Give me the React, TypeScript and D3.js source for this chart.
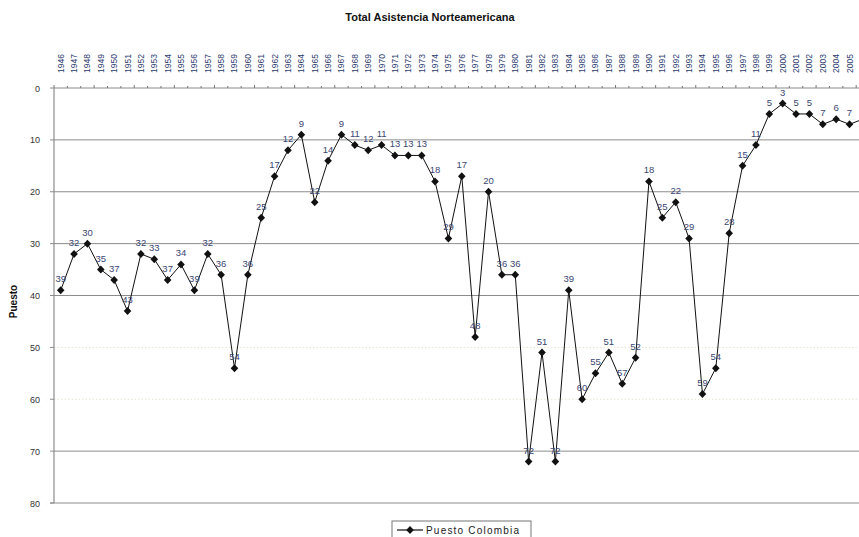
import React from "react";
import * as d3 from "d3";

const years: string[] = [
  "1946","1947","1948","1949","1950","1951","1952","1953","1954","1955",
  "1956","1957","1958","1959","1960","1961","1962","1963","1964","1965",
  "1966","1967","1968","1969","1970","1971","1972","1973","1974","1975",
  "1976","1977","1978","1979","1980","1981","1982","1983","1984","1985",
  "1986","1987","1988","1989","1990","1991","1992","1993","1994","1995",
  "1996","1997","1998","1999","2000","2001","2002","2003","2004","2005","2006",
];
const puesto: number[] = [
  39,32,30,35,37,43,32,33,37,34,
  39,32,36,54,36,25,17,12,9,22,
  14,9,11,12,11,13,13,13,18,29,
  17,48,20,36,36,72,51,72,39,60,
  55,51,57,52,18,25,22,29,59,54,
  28,15,11,5,3,5,5,7,6,7,6,
];
const yTicks: number[] = [0, 10, 20, 30, 40, 50, 60, 70, 80];
const solidGrid: number[] = [10, 20, 30, 40, 70];
const faintGrid: number[] = [50, 60];
const title = "Total Asistencia Norteamericana";
const yTitle = "Puesto";
const seriesName = "Puesto Colombia";

const W = 859;
const H = 537;
const left = 54;
const step = 13.37;
const top = 88;
const bottom = 503;

export default function App() {
  const x = d3
    .scaleBand<string>()
    .domain(years)
    .range([left, left + step * years.length])
    .paddingInner(0)
    .paddingOuter(0);
  const cx = (yr: string) => (x(yr) as number) + x.bandwidth() / 2;
  const y = d3.scaleLinear().domain([0, 80]).range([top, bottom]);
  const right = left + step * years.length;

  const line = d3
    .line<number>()
    .x((_, i) => cx(years[i]))
    .y((d) => y(d));

  const diamond = "M0,-4L3.8,0L0,4L-3.8,0Z";
  const font = "'Liberation Sans', Arial, sans-serif";

  return (
    <svg
      width={W}
      height={H}
      style={{ position: "absolute", left: 0, top: 0, background: "#fff" }}
      fontFamily={font}
    >
      <rect x={0} y={0} width={W} height={H} fill="#fff" />
      <text x={430} y={21} textAnchor="middle" fontSize={11} fontWeight="bold" fill="#111">
        {title}
      </text>

      {faintGrid.map((v) => (
        <line
          key={"f" + v}
          x1={left}
          x2={right}
          y1={y(v)}
          y2={y(v)}
          stroke="#e6e6cf"
          strokeDasharray="1.5,2"
        />
      ))}
      {solidGrid.map((v) => (
        <line key={"g" + v} x1={left} x2={right} y1={y(v)} y2={y(v)} stroke="#8c8c8c" strokeWidth={1} />
      ))}
      <line x1={left - 4} x2={right} y1={y(80)} y2={y(80)} stroke="#8c8c8c" strokeWidth={1.2} />

      <line x1={left} x2={left} y1={top} y2={bottom} stroke="#8c8c8c" strokeWidth={1.2} />
      {yTicks.map((v) => (
        <g key={"yt" + v}>
          <line x1={left - 4} x2={left} y1={y(v)} y2={y(v)} stroke="#8c8c8c" />
          <text x={left - 14} y={y(v) + 3.5} textAnchor="end" fontSize={9} fill="#333">
            {v}
          </text>
        </g>
      ))}
      <text
        transform={`translate(17,${(top + bottom) / 2 + 6}) rotate(-90)`}
        textAnchor="middle"
        fontSize={10}
        fontWeight="bold"
        fill="#111"
      >
        {yTitle}
      </text>

      <line x1={left} x2={right} y1={top} y2={top} stroke="#8c8c8c" strokeWidth={1.2} />
      {years.map((yr, i) => (
        <line
          key={"xt" + yr}
          x1={x(yr) as number}
          x2={x(yr) as number}
          y1={top}
          y2={top - (i % 3 === 0 ? 3 : 2)}
          stroke="#777"
        />
      ))}
      {years.map((yr) => (
        <text
          key={"xl" + yr}
          transform={`translate(${cx(yr) + 3},${73}) rotate(-90)`}
          fontSize={8.5}
          fill="#2b3a6e"
        >
          {yr}
        </text>
      ))}

      <path d={line(puesto) as string} fill="none" stroke="#111" strokeWidth={1} />
      {puesto.map((v, i) => (
        <path key={"m" + i} d={diamond} transform={`translate(${cx(years[i])},${y(v)})`} fill="#111" />
      ))}
      {puesto.map((v, i) => (
        <text
          key={"l" + i}
          x={cx(years[i])}
          y={y(v) - 8}
          textAnchor="middle"
          fontSize={9.5}
          fill="#3a4670"
        >
          {v}
        </text>
      ))}

      <rect x={392} y={521} width={139} height={22} fill="#fff" stroke="#777" />
      <line x1={397} x2={423} y1={530} y2={530} stroke="#111" strokeWidth={1.2} />
      <path d={diamond} transform="translate(410,530)" fill="#111" />
      <text x={426} y={534} fontSize={10} fill="#222" letterSpacing={1.2}>
        {seriesName}
      </text>
    </svg>
  );
}
